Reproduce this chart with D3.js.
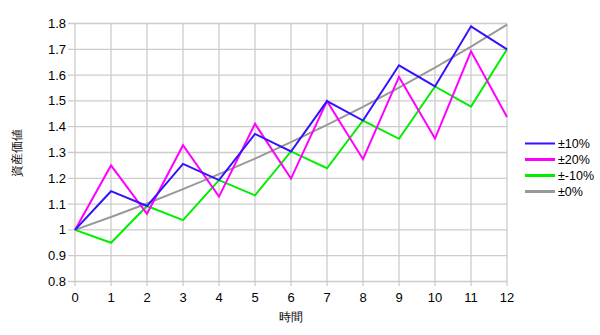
<!DOCTYPE html>
<html><head><meta charset="utf-8">
<script src="https://cdn.jsdelivr.net/npm/d3@7"></script>
<style>body{margin:0;background:#fff}svg{display:block}text{font-family:"Liberation Sans",Arial,sans-serif;fill:#000}</style>
</head><body><svg id="c" width="600" height="335"></svg>
<script>
const times = [0,1,2,3,4,5,6,7,8,9,10,11,12];
const yTicks = [0.8,0.9,1,1.1,1.2,1.3,1.4,1.5,1.6,1.7,1.8];
const seriesNames = ["±10%","±20%","±-10%","±0%"];
const seriesColors = ["#3311ff","#ff00ff","#00ee00","#999999"];
const s10 = [1,1.15,1.0925,1.256,1.193,1.372,1.304,1.499,1.424,1.638,1.556,1.789,1.700];
const s20 = [1,1.25,1.0625,1.328,1.129,1.411,1.199,1.499,1.274,1.593,1.354,1.692,1.438];
const sm10 = [1,0.95,1.0925,1.038,1.193,1.134,1.304,1.239,1.424,1.353,1.556,1.478,1.700];
const s0 = [1,1.05,1.1025,1.158,1.216,1.276,1.340,1.407,1.477,1.551,1.629,1.710,1.796];
const seriesValues = [s10,s20,sm10,s0];

const svg = d3.select("#c");
const x = d3.scaleLinear().domain([0,12]).range([75,507]);
const y = d3.scaleLinear().domain([0.8,1.8]).range([281.5,23.5]);

const grid = svg.append("g");
grid.selectAll("line.h").data(yTicks).join("line")
  .attr("x1",68).attr("x2",507).attr("y1",d=>y(d)).attr("y2",d=>y(d))
  .attr("stroke","#cccccc").attr("stroke-width",1.3);
grid.selectAll("line.v").data(times).join("line")
  .attr("x1",d=>x(d)).attr("x2",d=>x(d)).attr("y1",23.5).attr("y2",286)
  .attr("stroke","#cccccc").attr("stroke-width",1.3);

svg.append("g").selectAll("text").data(yTicks).join("text")
  .attr("x",66).attr("y",d=>y(d)+4.5).attr("text-anchor","end").attr("font-size",13)
  .text(d=>d3.format("~g")(d));
svg.append("g").selectAll("text").data(times).join("text")
  .attr("x",d=>x(d)).attr("y",302).attr("text-anchor","middle").attr("font-size",13)
  .text(d=>d);

svg.append("text").attr("x",291).attr("y",321).attr("text-anchor","middle").attr("font-size",12).text("時間");
svg.append("text").attr("transform","translate(21,152.5) rotate(-90)").attr("text-anchor","middle").attr("font-size",12).text("資産価値");

const line = d3.line().x((d,i)=>x(times[i])).y(d=>y(d));
const order = [3,2,1,0];
svg.append("g").selectAll("path").data(order).join("path")
  .attr("d",i=>line(seriesValues[i])).attr("fill","none")
  .attr("stroke",i=>seriesColors[i]).attr("stroke-width",2).attr("stroke-linejoin","miter");

const lg = svg.append("g");
seriesNames.forEach((n,i)=>{
  const yy = 143.5 + i*16;
  lg.append("line").attr("x1",525).attr("x2",555).attr("y1",yy).attr("y2",yy)
    .attr("stroke",seriesColors[i]).attr("stroke-width",i===0?2:3);
  lg.append("text").attr("x",558).attr("y",yy+4.5).attr("font-size",12.5).text(n);
});
</script></body></html>
